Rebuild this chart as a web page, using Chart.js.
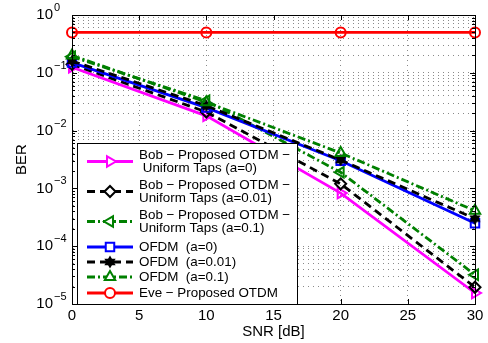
<!DOCTYPE html>
<html>
<head>
<meta charset="utf-8">
<script src="https://cdn.jsdelivr.net/npm/chart.js@4/dist/chart.umd.min.js"></script>
<style>
  html, body { margin: 0; padding: 0; background: #fff; }
  #wrap { width: 488px; height: 343px; }
</style>
</head>
<body>
<div id="wrap"><canvas id="ber-chart" width="488" height="343"></canvas></div>
<script>
// values (SNR in dB, BER)
const snr = [0, 10, 20, 30];
const bobA0 = [0.125, 0.018, 0.00083, 1.55e-5];
const bobA001 = [0.14, 0.021, 0.0012, 1.95e-5];
const bobA01 = [0.19, 0.033, 0.0019, 3.2e-5];
const ofdmA0 = [0.15, 0.025, 0.003, 2.5e-4];
const ofdmA001 = [0.16, 0.027, 0.0031, 3.0e-4];
const ofdmA01 = [0.2, 0.031, 0.0041, 4.1e-4];
const eve = [0.5, 0.5, 0.5, 0.5];

const yExponents = [0, -1, -2, -3, -4, -5];
const xTicks = [0, 5, 10, 15, 20, 25, 30];

const labels = [
    ["Bob \u2212 Proposed OTDM \u2212", " Uniform Taps (a=0)"],
    ["Bob \u2212 Proposed OTDM \u2212", "Uniform Taps (a=0.01)"],
    ["Bob \u2212 Proposed OTDM \u2212", "Uniform Taps (a=0.1)"],
    ["OFDM  (a=0)"],
    ["OFDM  (a=0.01)"],
    ["OFDM  (a=0.1)"],
    ["Eve \u2212 Proposed OTDM"]
];

const FONT = "'Liberation Sans', Arial, Helvetica, sans-serif";

// filled hexagram marker (matlab 'h')
const star = document.createElement("canvas");
star.width = 14; star.height = 14;
(function (c) {
    const g = c.getContext("2d");
    g.fillStyle = "#000";
    const tri = (rot) => {
        g.beginPath();
        for (let k = 0; k < 3; k++) {
            const t = rot + k * 2 * Math.PI / 3;
            const px = 7 + 6.5 * Math.sin(t), py = 7 - 6.5 * Math.cos(t);
            k ? g.lineTo(px, py) : g.moveTo(px, py);
        }
        g.closePath();
        g.fill();
    };
    tri(0);
    tri(Math.PI);
}(star));

const GREEN = "#008000";
const pts = (vals) => vals.map((v, i) => ({ x: snr[i], y: v }));

const series = [
    { data: bobA0, color: "#ff00ff", dash: [], style: "triangle", rot: 90, r: 6 },
    { data: bobA001, color: "#000000", dash: [8, 5], style: "rectRot", rot: 0, r: 5.5 },
    { data: bobA01, color: GREEN, dash: [8, 3, 2, 3], style: "triangle", rot: -90, r: 6 },
    { data: ofdmA0, color: "#0000ff", dash: [], style: "rect", rot: 0, r: 6 },
    { data: ofdmA001, color: "#000000", dash: [8, 5], style: star, rot: 0, r: 6 },
    { data: ofdmA01, color: GREEN, dash: [8, 3, 2, 3], style: "triangle", rot: 0, r: 6 },
    { data: eve, color: "#ff0000", dash: [], style: "circle", rot: 0, r: 5 }
];

const datasets = series.map((s, i) => ({
    label: labels[i].join(" "),
    data: pts(s.data),
    borderColor: s.color,
    backgroundColor: "rgba(0,0,0,0)",
    borderWidth: 2.8,
    borderDash: s.dash,
    pointStyle: s.style,
    rotation: s.rot,
    pointRadius: s.r,
    pointBorderWidth: 2,
    pointBorderColor: s.color,
    pointBackgroundColor: "rgba(0,0,0,0)",
    tension: 0,
    clip: false,
    order: -i
}));

// axes box, inward ticks, 10^n labels and the boxed legend
const matlabAxes = {
    id: "matlabAxes",
    afterDraw(chart) {
        const { ctx, chartArea: a, scales: { x, y } } = chart;
        ctx.save();
        ctx.setLineDash([]);
        ctx.strokeStyle = "#000";
        ctx.lineWidth = 1;
        ctx.strokeRect(a.left + 0.5, a.top + 0.5, a.right - a.left, a.bottom - a.top);

        ctx.beginPath();
        y.ticks.forEach(t => {
            const py = Math.round(y.getPixelForValue(t.value)) + 0.5;
            const len = t.major ? 5 : 3;
            ctx.moveTo(a.left, py); ctx.lineTo(a.left + len, py);
            ctx.moveTo(a.right, py); ctx.lineTo(a.right - len, py);
        });
        xTicks.forEach(v => {
            const px = Math.round(x.getPixelForValue(v)) + 0.5;
            ctx.moveTo(px, a.bottom); ctx.lineTo(px, a.bottom - 5);
            ctx.moveTo(px, a.top); ctx.lineTo(px, a.top + 5);
        });
        ctx.stroke();

        ctx.fillStyle = "#000";
        ctx.textBaseline = "middle";
        yExponents.forEach(e => {
            const py = y.getPixelForValue(Math.pow(10, e));
            ctx.font = "15px " + FONT;
            ctx.textAlign = "right";
            ctx.fillText("10", a.left - 19, py);
            ctx.font = "11px " + FONT;
            ctx.textAlign = "left";
            ctx.fillText(e === 0 ? "0" : "\u2212" + (-e), a.left - 18, py - 7);
        });

        // legend
        const box = { l: 77, t: 143, r: 297, b: 304 };
        ctx.fillStyle = "#fff";
        ctx.fillRect(box.l, box.t, box.r - box.l, box.b - box.t);
        ctx.strokeStyle = "#000";
        ctx.strokeRect(box.l + 0.5, box.t + 0.5, box.r - box.l, box.b - box.t);
        const rows = [[155, 168], [185, 198], [215, 228], [247], [262], [277], [293]];
        ctx.font = "13.4px " + FONT;
        ctx.textAlign = "left";
        series.forEach((s, i) => {
            const r = rows[i];
            const cy = (r[0] + r[r.length - 1]) / 2;
            ctx.strokeStyle = s.color;
            ctx.lineWidth = 2.8;
            ctx.setLineDash(s.dash);
            ctx.beginPath();
            ctx.moveTo(87, cy); ctx.lineTo(133, cy);
            ctx.stroke();
            ctx.setLineDash([]);
            ctx.lineWidth = 2;
            ctx.fillStyle = "#fff";
            Chart.helpers.drawPoint(ctx, {
                pointStyle: s.style, rotation: s.rot, radius: s.r, borderWidth: 2
            }, 110, cy);
            ctx.fillStyle = "#000";
            labels[i].forEach((line, k) => ctx.fillText(line, 139, r[k]));
        });
        ctx.restore();
    }
};

new Chart(document.getElementById("ber-chart"), {
    type: "line",
    data: { datasets: datasets },
    plugins: [matlabAxes],
    options: {
        responsive: false,
        animation: false,
        devicePixelRatio: 1,
        layout: { padding: { left: 0, top: 15, right: 13, bottom: 0 } },
        plugins: { legend: { display: false }, tooltip: { enabled: false } },
        scales: {
            x: {
                type: "linear",
                min: 0,
                max: 30,
                afterBuildTicks: (scale) => { scale.ticks = xTicks.map(v => ({ value: v })); },
                afterFit: (scale) => { scale.height = 39; },
                ticks: { color: "#000", padding: 3, font: { family: FONT, size: 15 } },
                grid: { color: "#8a8a8a", lineWidth: 1, drawTicks: false },
                border: { display: true, color: "#000", width: 1, dash: [1, 4] },
                title: {
                    display: true, text: "SNR [dB]", color: "#000",
                    font: { family: FONT, size: 15 }, padding: { top: 0, bottom: 2 }
                }
            },
            y: {
                type: "logarithmic",
                min: 1e-5,
                max: 1,
                afterBuildTicks: (scale) => {
                    const t = [];
                    for (let e = -5; e <= 0; e++) {
                        for (let m = 1; m <= 9; m++) {
                            const v = m * Math.pow(10, e);
                            if (v > 1) break;
                            t.push({ value: v, major: m === 1 });
                        }
                    }
                    scale.ticks = t;
                },
                afterFit: (scale) => { scale.width = 72; },
                ticks: { display: false },
                grid: { color: "#8a8a8a", lineWidth: 1, drawTicks: false },
                border: { display: true, color: "#000", width: 1, dash: [1, 4] },
                title: {
                    display: true, text: "BER", color: "#000",
                    font: { family: FONT, size: 15 }, padding: { top: 13, bottom: 0 }
                }
            }
        }
    }
});
</script>
</body>
</html>
